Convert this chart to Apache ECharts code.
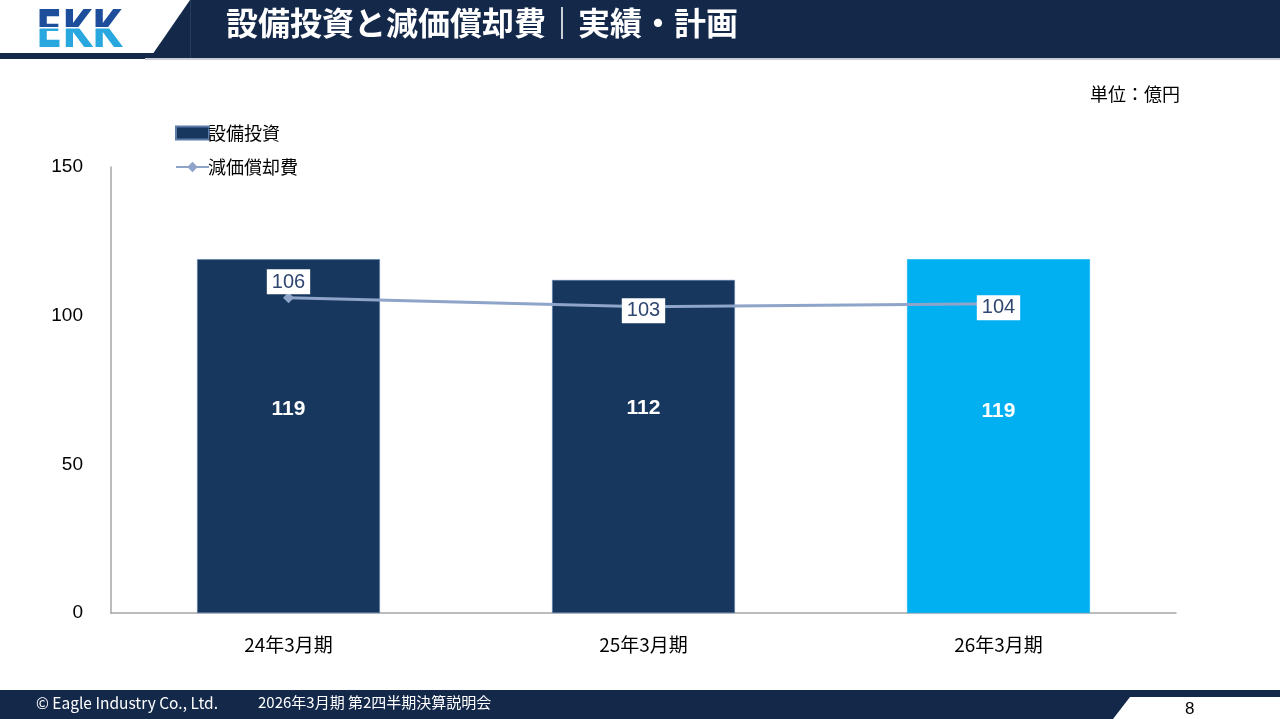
<!DOCTYPE html>
<html><head><meta charset="utf-8">
<script src="https://cdn.jsdelivr.net/npm/echarts@6/dist/echarts.min.js"></script>
<style>html,body{margin:0;padding:0;background:#fff;}#c{width:1280px;height:719px;}</style>
</head><body><div id="c"></div>
<script>
const categories = ['24年3月期', '25年3月期', '26年3月期'];
const capex = [119, 112, 119];
const depreciation = [106, 103, 104];
const yTicks = [0, 50, 100, 150];
const capexName = '設備投資';
const depName = '減価償却費';

const JP = '"Noto Sans CJK JP", "Noto Sans", sans-serif';
const NUM = '"Liberation Sans", Arial, sans-serif';
const navy = '#14284A';

// logo drawn on an offscreen canvas (two-tone text)
const logo = document.createElement('canvas');
logo.width = 90; logo.height = 42;
(function () {
  const g = logo.getContext('2d');
  g.save();
  g.scale(0.74, 1);
  g.font = 'bold 52px "DejaVu Sans"';
  g.textBaseline = 'alphabetic';
  const grad = g.createLinearGradient(0, 2, 0, 40);
  grad.addColorStop(0, '#1C4E9C'); grad.addColorStop(0.49, '#1C4E9C');
  grad.addColorStop(0.51, '#29A8E0'); grad.addColorStop(1, '#29A8E0');
  g.fillStyle = grad;
  g.fillText('EKK', 0, 40);
  g.restore();
  g.fillStyle = '#fff';
  g.fillRect(0, 20, 90, 1.5);
})();

const chart = echarts.init(document.getElementById('c'));
const barColors = ['#17375E', '#17375E', '#00B0F0'];
const barLabelShift = [-27, -38, -25];
chart.setOption({
  animation: false,
  textStyle: { fontFamily: JP },
  grid: { left: 111, right: 104, top: 167, bottom: 106 },
  legend: {
    orient: 'vertical', left: 170, top: 119, itemWidth: 33, itemHeight: 13, itemGap: 16,
    textStyle: { fontSize: 18, color: '#000', fontFamily: JP, padding: [0, 0, 0, -6] },
    data: [{ name: capexName, icon: 'rect' }, { name: depName }]
  },
  xAxis: {
    type: 'category', data: categories,
    axisLine: { lineStyle: { color: '#A6A6A6', width: 1.5 } },
    axisTick: { show: false },
    axisLabel: { fontSize: 19, color: '#000', margin: 22, fontFamily: JP }
  },
  yAxis: {
    type: 'value', min: yTicks[0], max: yTicks[yTicks.length - 1], interval: 50,
    axisLine: { show: true, lineStyle: { color: '#A6A6A6', width: 1.5 } },
    axisTick: { show: false }, splitLine: { show: false },
    axisLabel: { fontSize: 19, color: '#000', margin: 28, fontFamily: NUM }
  },
  series: [
    {
      name: capexName, type: 'bar', barWidth: '51.5%', z: 1,
      itemStyle: { color: '#17375E', borderColor: '#5B7BA8', borderWidth: 0.6 },
      data: capex.map((v, i) => ({ value: v,
        itemStyle: { color: barColors[i], borderColor: i === 2 ? '#00B0F0' : '#5B7BA8' },
        label: { offset: [0, barLabelShift[i]] } })),
      label: { show: true, position: 'inside', color: '#fff', fontSize: 21, fontWeight: 'bold', fontFamily: NUM }
    },
    {
      name: depName, type: 'line', z: 3, symbol: 'diamond', symbolSize: 11,
      itemStyle: { color: '#8EA4C8' }, lineStyle: { color: '#8EA4C8', width: 3 },
      data: depreciation.map((v, i) => ({ value: v,
        label: i === 0 ? { position: 'top', distance: -2 } : { position: 'inside', offset: [0, 4] } })),
      label: { show: true, color: '#2F4670', fontSize: 20, fontFamily: NUM, backgroundColor: '#fff', padding: [3, 5, 2, 5] }
    }
  ],
  graphic: [
    // header
    { type: 'polygon', shape: { points: [[190, 0], [1280, 0], [1280, 58], [150, 58]] }, style: { fill: navy }, silent: true },
    { type: 'rect', shape: { x: 0, y: 53, width: 160, height: 6 }, style: { fill: navy }, silent: true },
    { type: 'rect', shape: { x: 190, y: 0, width: 1, height: 58 }, style: { fill: '#2A3C5C' }, silent: true },
    { type: 'rect', shape: { x: 145, y: 58, width: 1135, height: 2 }, style: { fill: '#C9CDD3' }, silent: true },
    { type: 'image', x: 36, y: 7, style: { image: logo, width: 90, height: 42 }, silent: true },
    { type: 'text', left: 226, top: 7, style: { text: '設備投資と減価償却費｜実績・計画', font: 'bold 32px ' + JP, fill: '#fff' }, silent: true },
    // unit
    { type: 'text', right: 100, top: 85, style: { text: '単位：億円', font: '18px ' + JP, fill: '#000' }, silent: true },
    // footer
    { type: 'rect', shape: { x: 0, y: 690, width: 1280, height: 29 }, style: { fill: navy }, silent: true },
    { type: 'polygon', shape: { points: [[1130, 697], [1280, 697], [1280, 719], [1113, 719]] }, style: { fill: '#fff' }, silent: true },
    { type: 'text', left: 36, top: 695, style: { text: '© Eagle Industry Co., Ltd.', font: '15.5px ' + JP, fill: '#fff' }, silent: true },
    { type: 'text', left: 258, top: 695, style: { text: '2026年3月期 第2四半期決算説明会', font: '15px ' + JP, fill: '#fff' }, silent: true },
    { type: 'text', left: 1185, top: 701, style: { text: '8', font: '17px ' + NUM, fill: '#000' }, silent: true }
  ]
});
</script></body></html>
